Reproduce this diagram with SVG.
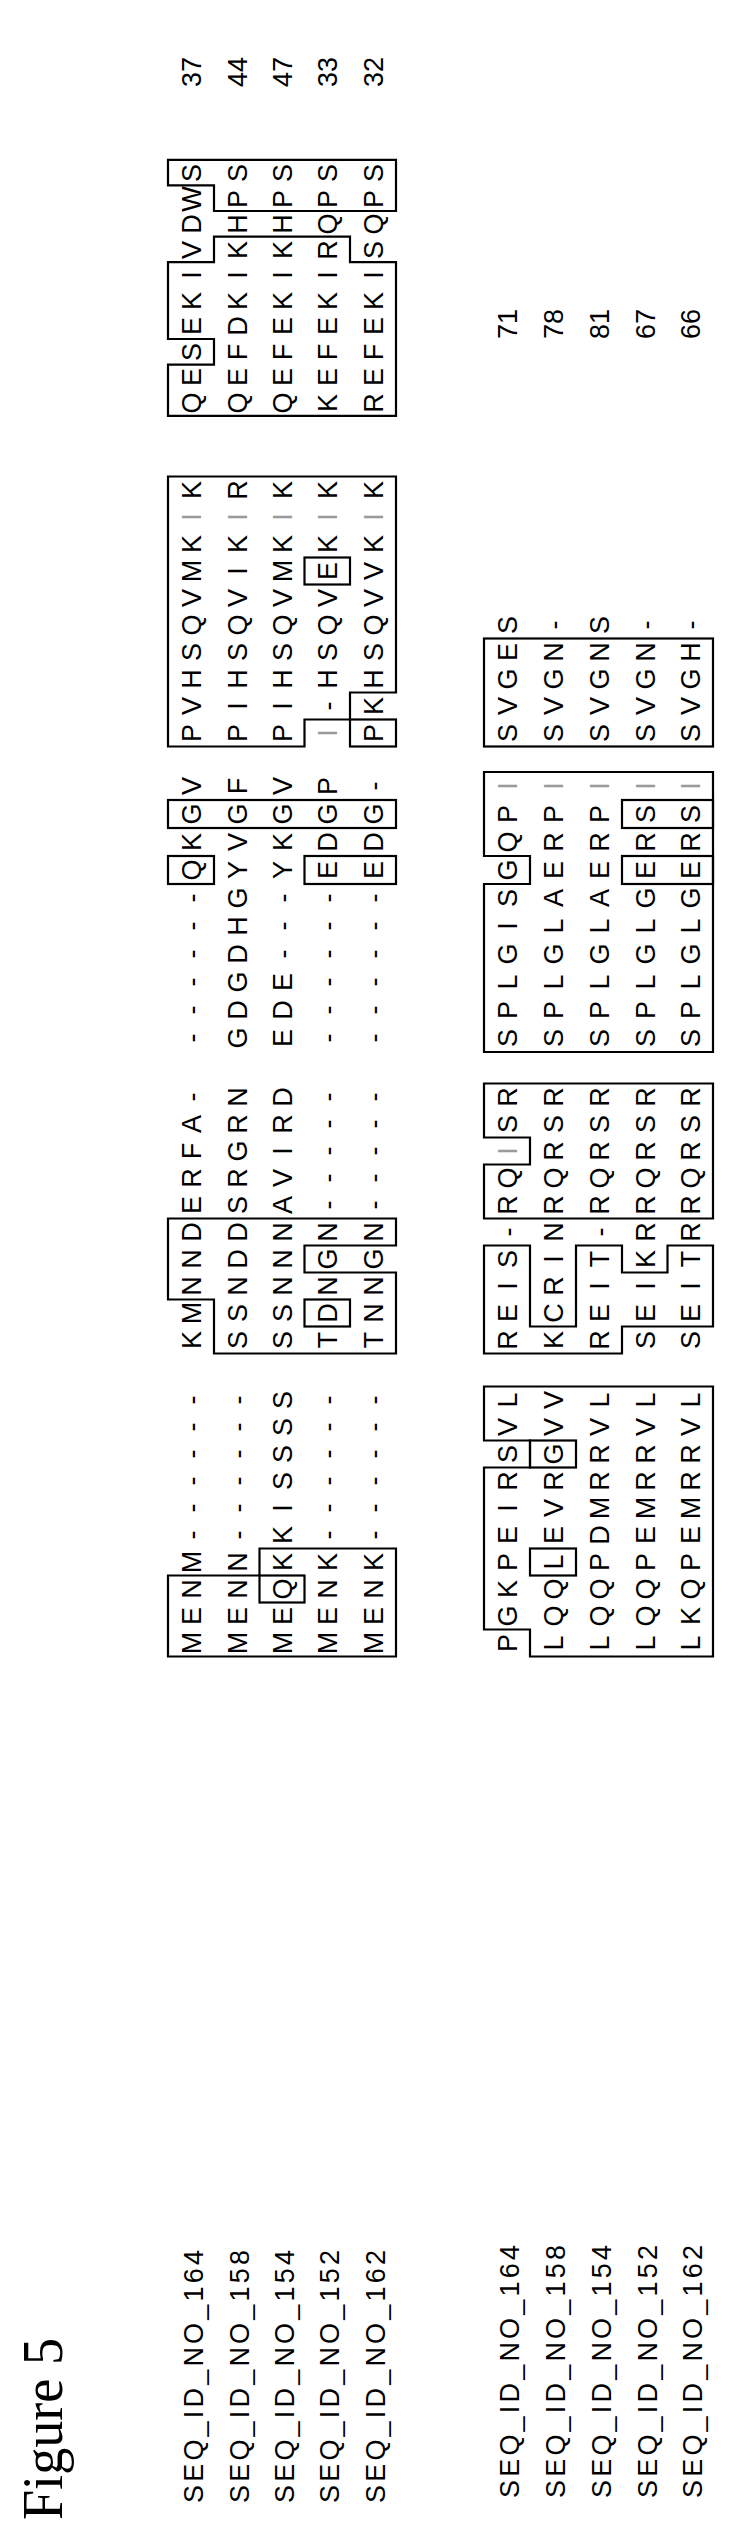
<svg xmlns="http://www.w3.org/2000/svg" width="735" height="2540" viewBox="0 0 735 2540">
<style>
.s{font-family:"Liberation Sans",Arial,sans-serif;font-size:27px;text-anchor:middle;fill:#000}
.l{font-family:"Liberation Sans",Arial,sans-serif;font-size:27px;fill:#000}
.f{fill:#9a9a9a}
.b{fill:none;stroke:#000;stroke-width:2.2}
.t{font-family:"Liberation Serif","Times New Roman",serif;font-size:56px;fill:#000}
</style>
<rect width="735" height="2540" fill="#fff"/>
<g id="boxes" class="b">
<polygon points="168,1656.5 396,1656.5 396,1548.5 259.5,1548.5 259.5,1575.5 168,1575.5"/>
<rect x="259.5" y="1575.5" width="45" height="27"/>
<polygon points="168,1218.5 396,1218.5 396,1245.5 304.5,1245.5 304.5,1272.5 396,1272.5 396,1353.5 214,1353.5 214,1299.5 168,1299.5"/>
<rect x="304.5" y="1299.5" width="45.5" height="27"/>
<rect x="168" y="856" width="46" height="28"/>
<rect x="304.5" y="856" width="91.5" height="28"/>
<rect x="168" y="800" width="228" height="28"/>
<polygon points="168,476.5 396,476.5 396,692.5 350,692.5 350,719.5 304.5,719.5 304.5,746.5 168,746.5"/>
<rect x="350" y="719.5" width="46" height="27"/>
<rect x="304.5" y="557.5" width="45.5" height="27"/>
<polygon points="168,159.8 396,159.8 396,211 214,211 214,185.4 168,185.4"/>
<polygon points="168,262.2 214,262.2 214,236.6 350,236.6 350,262.2 396,262.2 396,415.8 168,415.8 168,364.6 214,364.6 214,339 168,339"/>
<polygon points="530,1656.5 713,1656.5 713,1386.5 484,1386.5 484,1440.5 530,1440.5 530,1467.5 484,1467.5 484,1629.5 530,1629.5"/>
<rect x="530" y="1440.5" width="46" height="27"/>
<rect x="530" y="1548.5" width="46" height="27"/>
<polygon points="484,1353.5 622,1353.5 622,1326.5 713,1326.5 713,1245.5 667.5,1245.5 667.5,1272.5 622,1272.5 622,1245.5 576,1245.5 576,1326.5 530,1326.5 530,1245.5 484,1245.5"/>
<polygon points="484,1083.5 713,1083.5 713,1218.5 484,1218.5 484,1164.5 530,1164.5 530,1137.5 484,1137.5"/>
<polygon points="484,1052 713,1052 713,772 484,772 484,856 530,856 530,884 484,884"/>
<rect x="622" y="856" width="91" height="28"/>
<rect x="622" y="800" width="91" height="28"/>
<rect x="484" y="638.5" width="229" height="108"/>
</g>
<g id="text" transform="rotate(-90)">
<text class="t" x="-2520" y="62" textLength="182" lengthAdjust="spacingAndGlyphs">Figure 5</text>
<g id="labels" class="l">
<text x="-2503" y="202.7" textLength="253">SEQ_ID_NO_164</text>
<text x="-2503" y="248.7" textLength="253">SEQ_ID_NO_158</text>
<text x="-2503" y="293.7" textLength="253">SEQ_ID_NO_154</text>
<text x="-2503" y="338.7" textLength="253">SEQ_ID_NO_152</text>
<text x="-2503" y="384.7" textLength="253">SEQ_ID_NO_162</text>
<text x="-2498" y="518.7" textLength="253">SEQ_ID_NO_164</text>
<text x="-2498" y="564.7" textLength="253">SEQ_ID_NO_158</text>
<text x="-2498" y="610.7" textLength="253">SEQ_ID_NO_154</text>
<text x="-2498" y="656.7" textLength="253">SEQ_ID_NO_152</text>
<text x="-2498" y="701.7" textLength="253">SEQ_ID_NO_162</text>
</g>
<g id="block1" class="s">
<text y="200.7" x="-1643 -1616 -1589 -1562 -1535 -1508 -1481 -1454 -1427 -1400 -1340 -1313 -1286 -1259 -1232 -1205 -1178 -1151 -1124 -1097 -1038 -1010 -982 -954 -926 -898 -870 -842 -814 -786 -733 -706 -679 -652 -625 -598 -571 -544 -517 -490 -403 -377 -352 -326 -301 -275 -250 -224 -199 -173">MENM------KMNNDERFA-------QKGVPVHSQVMK<tspan class="f">I</tspan>KQESEKIVDWS</text>
<text y="246.7" x="-1643 -1616 -1589 -1562 -1535 -1508 -1481 -1454 -1427 -1400 -1340 -1313 -1286 -1259 -1232 -1205 -1178 -1151 -1124 -1097 -1038 -1010 -982 -954 -926 -898 -870 -842 -814 -786 -733 -706 -679 -652 -625 -598 -571 -544 -517 -490 -403 -377 -352 -326 -301 -275 -250 -224 -199 -173">MENN------SSNDDSRGRNGDGDHGYVGFPIHSQVIK<tspan class="f">I</tspan>RQEFDKIKHPS</text>
<text y="291.7" x="-1643 -1616 -1589 -1562 -1535 -1508 -1481 -1454 -1427 -1400 -1340 -1313 -1286 -1259 -1232 -1205 -1178 -1151 -1124 -1097 -1038 -1010 -982 -954 -926 -898 -870 -842 -814 -786 -733 -706 -679 -652 -625 -598 -571 -544 -517 -490 -403 -377 -352 -326 -301 -275 -250 -224 -199 -173">MEQKKISSSSSSNNNAVIRDEDE---YKGVPIHSQVMK<tspan class="f">I</tspan>KQEFEKIKHPS</text>
<text y="336.7" x="-1643 -1616 -1589 -1562 -1535 -1508 -1481 -1454 -1427 -1400 -1340 -1313 -1286 -1259 -1232 -1205 -1178 -1151 -1124 -1097 -1038 -1010 -982 -954 -926 -898 -870 -842 -814 -786 -733 -706 -679 -652 -625 -598 -571 -544 -517 -490 -403 -377 -352 -326 -301 -275 -250 -224 -199 -173">MENK------TDNGN-----------EDGP<tspan class="f">I</tspan>-HSQVEK<tspan class="f">I</tspan>KKEFEKIRQPS</text>
<text y="382.7" x="-1643 -1616 -1589 -1562 -1535 -1508 -1481 -1454 -1427 -1400 -1340 -1313 -1286 -1259 -1232 -1205 -1178 -1151 -1124 -1097 -1038 -1010 -982 -954 -926 -898 -870 -842 -814 -786 -733 -706 -679 -652 -625 -598 -571 -544 -517 -490 -403 -377 -352 -326 -301 -275 -250 -224 -199 -173">MENK------TNNGN-----------EDG-PKHSQVVK<tspan class="f">I</tspan>KREFEKISQPS</text>
<text x="-72" y="200.7">37</text>
<text x="-72" y="246.7">44</text>
<text x="-72" y="291.7">47</text>
<text x="-72" y="336.7">33</text>
<text x="-72" y="382.7">32</text>
</g>
<g id="block2" class="s">
<text y="516.7" x="-1643 -1616 -1589 -1562 -1535 -1508 -1481 -1454 -1427 -1400 -1340 -1313 -1286 -1259 -1232 -1205 -1178 -1151 -1124 -1097 -1038 -1010 -982 -954 -926 -898 -870 -842 -814 -786 -733 -706 -679 -652 -625">PGKPEIRSVLREIS-RQ<tspan class="f">I</tspan>SRSPLGISGQP<tspan class="f">I</tspan>SVGES</text>
<text y="562.7" x="-1643 -1616 -1589 -1562 -1535 -1508 -1481 -1454 -1427 -1400 -1340 -1313 -1286 -1259 -1232 -1205 -1178 -1151 -1124 -1097 -1038 -1010 -982 -954 -926 -898 -870 -842 -814 -786 -733 -706 -679 -652 -625">LQQLEVRGVVKCRINRQRSRSPLGLAERP<tspan class="f">I</tspan>SVGN-</text>
<text y="608.7" x="-1643 -1616 -1589 -1562 -1535 -1508 -1481 -1454 -1427 -1400 -1340 -1313 -1286 -1259 -1232 -1205 -1178 -1151 -1124 -1097 -1038 -1010 -982 -954 -926 -898 -870 -842 -814 -786 -733 -706 -679 -652 -625">LQQPDMRRVLREIT-RQRSRSPLGLAERP<tspan class="f">I</tspan>SVGNS</text>
<text y="654.7" x="-1643 -1616 -1589 -1562 -1535 -1508 -1481 -1454 -1427 -1400 -1340 -1313 -1286 -1259 -1232 -1205 -1178 -1151 -1124 -1097 -1038 -1010 -982 -954 -926 -898 -870 -842 -814 -786 -733 -706 -679 -652 -625">LQQPEMRRVLSEIKRRQRSRSPLGLGERS<tspan class="f">I</tspan>SVGN-</text>
<text y="699.7" x="-1643 -1616 -1589 -1562 -1535 -1508 -1481 -1454 -1427 -1400 -1340 -1313 -1286 -1259 -1232 -1205 -1178 -1151 -1124 -1097 -1038 -1010 -982 -954 -926 -898 -870 -842 -814 -786 -733 -706 -679 -652 -625">LKQPEMRRVLSEITRRQRSRSPLGLGERS<tspan class="f">I</tspan>SVGH-</text>
<text x="-324" y="516.7">71</text>
<text x="-324" y="562.7">78</text>
<text x="-324" y="608.7">81</text>
<text x="-324" y="654.7">67</text>
<text x="-324" y="699.7">66</text>
</g>
</g>
</svg>
